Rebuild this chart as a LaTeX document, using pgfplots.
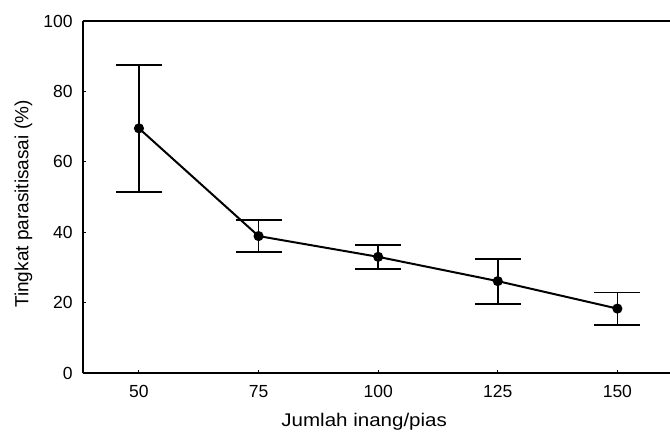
\documentclass[border=0pt]{standalone}
\usepackage{pgfplots}
\pgfplotsset{compat=1.18}
\usepackage{fontspec}
\setmainfont{Liberation Sans}
\newfontfamily\widefont{Liberation Sans}[FakeStretch=1.12]
\newcommand{\tf}{\fontsize{10.5pt}{12pt}\selectfont}
\newcommand{\xf}{\widefont\fontsize{11pt}{13pt}\selectfont}
\newcommand{\yf}{\fontsize{11.4pt}{13pt}\selectfont}
\begin{document}
\begin{tikzpicture}
\begin{axis}[
  scale only axis,
  width=352.2pt, height=211.2pt,
  xmin=38.3, xmax=161,
  ymin=0, ymax=100,
  axis lines*=left,
  axis line style={line width=1pt},
  xtick={50,75,100,125,150},
  ytick={0,20,40,60,80,100},
  tick align=inside,
  major tick length=2pt,
  tick style={line width=0.6pt, black},
  /pgf/number format/assume math mode=true,
  ticklabel style={font=\tf},
  yticklabel style={anchor=east, inner sep=0pt, xshift=-6pt},
  xticklabel style={anchor=north, inner sep=0pt, yshift=-7pt},
  xlabel={Jumlah inang/pias},
  ylabel={Tingkat parasitisasai (\%)},
  xlabel style={font=\xf, at={(axis description cs:0.479,0)}, anchor=center, yshift=-29.4pt},
  ylabel style={font=\yf, at={(axis description cs:0,0.48)}, anchor=center, yshift=35.7pt},
]
\addplot[black, line width=1.2pt, mark=*, mark size=2.4pt,
  mark options={fill=black},
  error bars/.cd, y dir=both, y explicit,
  error bar style={line width=1pt},
  error mark=|,
  error mark options={line width=1pt, mark size=13.8pt}]
coordinates {
  (50,69.5) += (0,18.0) -= (0,18.0)
  (75,38.9) += (0,4.6) -= (0,4.5)
  (100,33.0) += (0,3.4) -= (0,3.5)
  (125,26.1) += (0,6.3) -= (0,6.5)
  (150,18.3) += (0,4.6) -= (0,4.7)
};
\draw[line width=1pt] (rel axis cs:0,1) -- (rel axis cs:1,1);
\coordinate (ll) at (rel axis cs:0,0);
\coordinate (ur) at (rel axis cs:1,1);
\end{axis}
\path (ll) +(-49.8pt,-36pt) coordinate (bba);
\path (ur) +(0pt,12.6pt) coordinate (bbb);
\pgfresetboundingbox
\path[use as bounding box] (bba) rectangle (bbb);
\end{tikzpicture}
\end{document}
